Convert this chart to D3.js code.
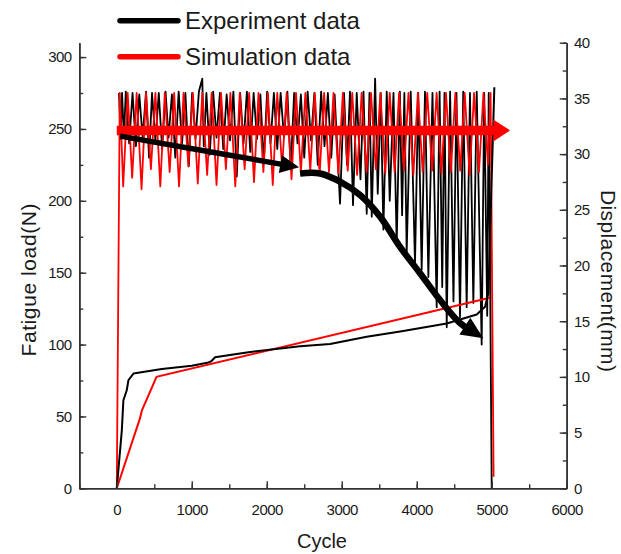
<!DOCTYPE html>
<html><head><meta charset="utf-8">
<script src="https://cdn.jsdelivr.net/npm/d3@7"></script>
<style>
body{margin:0;background:#fff}
text{font-family:Arial,"Liberation Sans",sans-serif;fill:#1a1a1a}
.tick text{font-size:15px;letter-spacing:-0.5px}
</style>
</head><body>
<svg id="c" width="621" height="554"></svg>
<script>
// ---------------- data ----------------
const xTicks = [0,1000,2000,3000,4000,5000,6000];
const loadTicks = [0,50,100,150,200,250,300];
const dispTicks = [0,5,10,15,20,25,30,35,40];
const seriesNames = ["Experiment data","Simulation data"];

// Experiment: fatigue load vs cycle  [cycle, N]
const expLoad = [[30,275],[50,243],[70,275],[95,244],[120,276],[165,240],[210,275],[255,238],[300,274],[345,244],[390,276],[430,230],[470,275],[515,242],[560,275],[605,236],[650,276],[690,244],[735,274],[780,230],[825,276],[870,240],[915,275],[960,224],[1005,275],[1050,243],[1095,276],[1140,285],[1160,238],[1195,275],[1240,232],[1285,276],[1330,244],[1375,275],[1420,236],[1465,274],[1510,242],[1555,276],[1600,217],[1645,275],[1690,240],[1735,276],[1780,234],[1825,275],[1870,243],[1915,274],[1960,226],[2005,276],[2050,240],[2095,275],[2140,236],[2185,275],[2230,244],[2275,276],[2320,222],[2365,275],[2410,240],[2455,274],[2500,230],[2545,276],[2590,242],[2635,275],[2680,225],[2725,276],[2770,238],[2815,275],[2860,230],[2905,274],[2977,198],[3030,275],[3070,225],[3110,276],[3150,197],[3200,275],[3250,215],[3290,276],[3333,191],[3370,275],[3400,189],[3445,285],[3480,205],[3520,275],[3555,180],[3600,276],[3640,200],[3690,275],[3733,170],[3775,276],[3805,190],[3835,275],[3866,164],[3920,276],[3977,156],[4020,275],[4066,152],[4110,276],[4155,147],[4210,275],[4266,126],[4305,276],[4340,140],[4370,275],[4400,112],[4445,276],[4490,130],[4530,275],[4577,119],[4620,276],[4666,126],[4710,275],[4755,129],[4800,276],[4866,100],[4900,275],[4940,120],[4960,275],[5000,0]];

// Simulation: fatigue load vs cycle [cycle, N]
const simLoad = [[0,0],[40,275],[85,210],[145,275],[205,216],[265,275],[330,208],[390,275],[455,222],[515,275],[580,210],[640,275],[705,220],[765,275],[830,210],[890,275],[955,224],[1015,275],[1080,212],[1140,275],[1205,218],[1265,275],[1330,211],[1390,275],[1455,222],[1515,275],[1580,210],[1640,275],[1705,222],[1765,275],[1830,213],[1890,275],[1955,220],[2015,275],[2080,211],[2140,275],[2205,223],[2265,275],[2330,215],[2390,275],[2455,220],[2515,275],[2580,221],[2640,275],[2705,218],[2765,275],[2830,220],[2890,275],[2955,219],[3015,275],[3080,221],[3140,275],[3205,218],[3265,275],[3330,220],[3390,275],[3455,222],[3515,275],[3580,219],[3640,275],[3705,220],[3765,275],[3830,221],[3890,275],[3955,218],[4015,275],[4080,220],[4140,275],[4205,221],[4265,275],[4330,219],[4390,275],[4455,220],[4515,275],[4580,221],[4640,275],[4705,218],[4765,275],[4830,220],[4890,275],[4950,225],[4985,275],[5025,8]];

// Experiment: displacement vs cycle [cycle, mm]
const expDisp = [[0,0],[67,5.2],[88,7.9],[133,8.8],[155,9.7],[222,10.3],[600,10.7],[1000,11.0],[1222,11.3],[1260,11.4],[1311,11.76],[1733,12.2],[2444,12.75],[2844,12.95],[3333,13.6],[3800,14.1],[4400,14.8],[4800,15.6],[4911,16.3],[4955,17.5],[5035,36]];

// Simulation: displacement vs cycle [cycle, mm]
const simDisp = [[0,0],[310,6.3],[335,7.0],[530,10.0],[4975,17.1]];

// annotation arrows (data coordinates: [cycle, N])
const redArrow = [[0,249],[5021,249]];
const redArrowTip = 5244;
const blackArrow1 = [[44,245],[1200,234.5],[2431,223.3]];
const blackArrow2 = [[2444,219],[2711,219],[2977,213.3],[3244,204],[3511,189],[3777,168],[4044,149.6],[4311,131],[4577,115],[4888,104.4]];

// ---------------- chart ----------------
const svg = d3.select("#c");
const x = d3.scaleLinear().domain([-500,6000]).range([79.3,566.7]);
const yL = d3.scaleLinear().domain([0,310]).range([488.3,42.7]);
const yR = d3.scaleLinear().domain([0,40]).range([488.3,42.7]);

const lineL = d3.line().x(d=>x(d[0])).y(d=>yL(d[1]));
const lineR = d3.line().x(d=>x(d[0])).y(d=>yR(d[1]));

const g = svg.append("g");
g.append("path").attr("d",lineL(expLoad)).attr("fill","none").attr("stroke","#000").attr("stroke-width",1.8).attr("stroke-linejoin","round");
g.append("path").attr("d",lineL(simLoad)).attr("fill","none").attr("stroke","#ff0000").attr("stroke-width",1.8).attr("stroke-linejoin","round");
g.append("path").attr("d",lineR(simDisp)).attr("fill","none").attr("stroke","#ff0000").attr("stroke-width",2);
g.append("path").attr("d",lineR(expDisp)).attr("fill","none").attr("stroke","#000").attr("stroke-width",2).attr("stroke-linejoin","round");

// red arrow
const ry = yL(redArrow[0][1]);
g.append("line").attr("x1",x(redArrow[0][0])).attr("x2",x(redArrow[1][0])+1).attr("y1",ry).attr("y2",ry)
  .attr("stroke","#ff0000").attr("stroke-width",9.5);
g.append("path").attr("d",`M${x(redArrow[1][0])},${ry-11}L${x(redArrowTip)},${ry}L${x(redArrow[1][0])},${ry+11}Z`).attr("fill","#ff0000");

// black arrows
function arrow(pts, width, headLen, headHalf, curve){
  const p = pts.map(d=>[x(d[0]),yL(d[1])]);
  const tip = p[p.length-1], prev = p[p.length-2];
  const dx = tip[0]-prev[0], dy = tip[1]-prev[1], L = Math.hypot(dx,dy);
  const ux = dx/L, uy = dy/L;
  const base = [tip[0]-ux*headLen, tip[1]-uy*headLen];
  const shaft = p.slice(0,-1).concat([[tip[0]-ux*headLen*0.6, tip[1]-uy*headLen*0.6]]);
  g.append("path").attr("d",d3.line().curve(curve)(shaft)).attr("fill","none").attr("stroke","#000").attr("stroke-width",width);
  g.append("path").attr("d",`M${base[0]-uy*headHalf},${base[1]+ux*headHalf}L${tip[0]},${tip[1]}L${base[0]+uy*headHalf},${base[1]-ux*headHalf}Z`).attr("fill","#000");
}
arrow(blackArrow1, 5.5, 19, 9, d3.curveLinear);
arrow(blackArrow2, 6.5, 22, 10, d3.curveCatmullRom);

// axes
const axisColor = "#333";
function styleAxis(sel){
  sel.selectAll(".domain").attr("stroke",axisColor).attr("stroke-width",1.6);
  sel.selectAll(".tick line").attr("stroke",axisColor).attr("stroke-width",1.4);
  sel.selectAll(".tick text").attr("fill","#1a1a1a");
}
const minorL = d3.range(0,310,25), minorR = d3.range(0,40.1,2.5), minorX = d3.range(-500,6001,500);
svg.append("g").attr("transform","translate(79.3,0)").call(d3.axisLeft(yL).tickValues(minorL).tickSizeInner(-4).tickSizeOuter(0).tickFormat("")).call(styleAxis);
svg.append("g").attr("transform","translate(79.3,0)").call(d3.axisLeft(yL).tickValues(loadTicks).tickSizeInner(-7).tickSizeOuter(0).tickPadding(7.6)).call(styleAxis);
svg.append("g").attr("transform","translate(566.7,0)").call(d3.axisRight(yR).tickValues(minorR).tickSizeInner(-4).tickSizeOuter(0).tickFormat("")).call(styleAxis);
svg.append("g").attr("transform","translate(566.7,0)").call(d3.axisRight(yR).tickValues(dispTicks).tickSizeInner(-7).tickSizeOuter(0).tickPadding(7.3)).call(styleAxis);
svg.append("g").attr("transform","translate(0,488.3)").call(d3.axisBottom(x).tickValues(minorX).tickSizeInner(-4).tickSizeOuter(0).tickFormat("")).call(styleAxis);
svg.append("g").attr("transform","translate(0,488.3)").call(d3.axisBottom(x).tickValues(xTicks).tickSizeInner(-7).tickSizeOuter(0).tickPadding(16).tickFormat(d3.format("d"))).call(styleAxis);

// axis titles
svg.append("text").attr("transform","translate(36,280) rotate(-90)").attr("text-anchor","middle").attr("font-size",21).attr("textLength",153).text("Fatigue load(N)");
svg.append("text").attr("transform","translate(601,281) rotate(90)").attr("text-anchor","middle").attr("font-size",21).attr("textLength",182).text("Displacement(mm)");
svg.append("text").attr("x",322).attr("y",548).attr("text-anchor","middle").attr("font-size",20).text("Cycle");

// legend
const legColors = ["#000","#ff0000"], legY = [20.7,56.7];
seriesNames.forEach((n,i)=>{
  svg.append("line").attr("x1",120).attr("x2",178).attr("y1",legY[i]).attr("y2",legY[i]).attr("stroke",legColors[i]).attr("stroke-width",5.5).attr("stroke-linecap","round");
  svg.append("text").attr("x",185).attr("y",legY[i]+8.6).attr("font-size",24).text(n);
});
</script>
</body></html>
